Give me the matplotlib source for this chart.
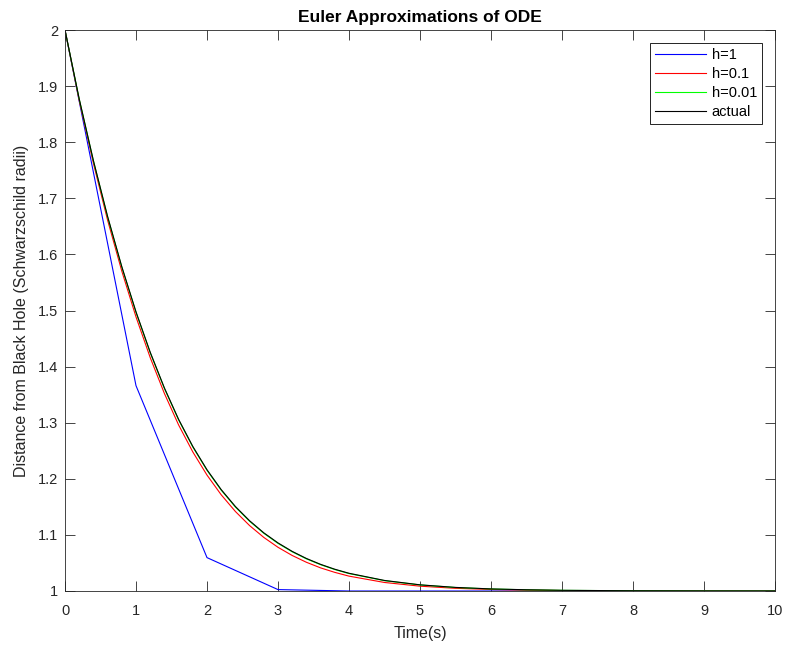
import matplotlib
matplotlib.use("Agg")
import matplotlib.pyplot as plt

plt.rcParams['font.family'] = ['Liberation Sans', 'DejaVu Sans']

# Euler solution with step h=1
t_coarse = [0, 1, 2, 3, 4, 5, 6, 7, 8, 9, 10]
r_h1 = [2.0, 1.366, 1.0595, 1.0025, 1.0, 1.0, 1.0, 1.0, 1.0, 1.0, 1.0]

# finer time grid for the smaller steps and the exact solution
t_fine = [0, 0.2, 0.4, 0.6, 0.8, 1.0, 1.2, 1.4, 1.6, 1.8, 2.0, 2.2, 2.4, 2.6,
          2.8, 3.0, 3.2, 3.4, 3.6, 3.8, 4.0, 4.5, 5.0, 5.5, 6.0, 6.5, 7.0,
          8.0, 9.0, 10.0]
r_actual = [2.0, 1.8772, 1.7672, 1.6676, 1.5781, 1.4976, 1.4257, 1.3620,
            1.3060, 1.2577, 1.2161, 1.1807, 1.1506, 1.1252, 1.1037, 1.0857,
            1.0706, 1.0580, 1.0475, 1.0388, 1.0316, 1.0188, 1.0110, 1.0064,
            1.0037, 1.0022, 1.0012, 1.0004, 1.0001, 1.0]
r_h01 = [2.0, 1.8746, 1.7624, 1.6610, 1.5702, 1.4886, 1.4161, 1.3521,
         1.2960, 1.2479, 1.2066, 1.1715, 1.1417, 1.1166, 1.0955, 1.0779,
         1.0633, 1.0512, 1.0412, 1.0332, 1.0265, 1.0152, 1.0086, 1.0048,
         1.0027, 1.0015, 1.0008, 1.0002, 1.0001, 1.0]
r_h001 = [2.0, 1.8769, 1.7667, 1.6669, 1.5773, 1.4967, 1.4247, 1.3610,
          1.3050, 1.2567, 1.2152, 1.1798, 1.1497, 1.1243, 1.1029, 1.0849,
          1.0699, 1.0573, 1.0469, 1.0382, 1.0311, 1.0184, 1.0108, 1.0062,
          1.0036, 1.0021, 1.0012, 1.0004, 1.0001, 1.0]

axis_gray = (0.15, 0.15, 0.15)

fig = plt.figure(figsize=(7.87, 6.49), dpi=100)
ax = fig.add_axes([65 / 787, 1 - 591 / 649, 710 / 787, 561 / 649])

ax.plot(t_coarse, r_h1, color=(0, 0, 1), lw=0.8, label='h=1')
ax.plot(t_fine, r_h01, color=(1, 0, 0), lw=0.8, label='h=0.1')
ax.plot(t_fine, r_h001, color=(0, 1, 0), lw=0.8, label='h=0.01')
ax.plot(t_fine, r_actual, color='k', lw=0.8, label='actual')

ax.set_xlim(0, 10)
ax.set_ylim(1, 2)
ax.set_xticks(range(0, 11))
ax.set_yticks([1 + 0.1 * i for i in range(11)])
ax.set_yticklabels(['1', '1.1', '1.2', '1.3', '1.4', '1.5', '1.6', '1.7', '1.8', '1.9', '2'])

ax.tick_params(direction='in', length=7, width=0.6, colors=axis_gray,
               labelsize=10.5, top=True, right=True)
ax.tick_params(axis='x', pad=9.5)
ax.tick_params(axis='y', pad=5)
for s in ax.spines.values():
    s.set_color(axis_gray)
    s.set_linewidth(0.6)

ax.set_xlabel('Time(s)', fontsize=11.5, color=axis_gray, labelpad=5.5)
ax.set_ylabel('Distance from Black Hole (Schwarzschild radii)', fontsize=11.5,
              color=axis_gray, labelpad=6.5)
ax.set_title('Euler Approximations of ODE', fontsize=12.5, fontweight='bold', pad=6)

leg = ax.legend(loc='upper right', bbox_to_anchor=(0.982, 0.977), fontsize=10.5,
                frameon=True, fancybox=False, framealpha=1, edgecolor='k',
                handlelength=3.5, handletextpad=0.4, labelspacing=0.35,
                borderpad=0.35, borderaxespad=0)
leg.get_frame().set_linewidth(0.6)

fig.savefig('out.png', dpi=100)
